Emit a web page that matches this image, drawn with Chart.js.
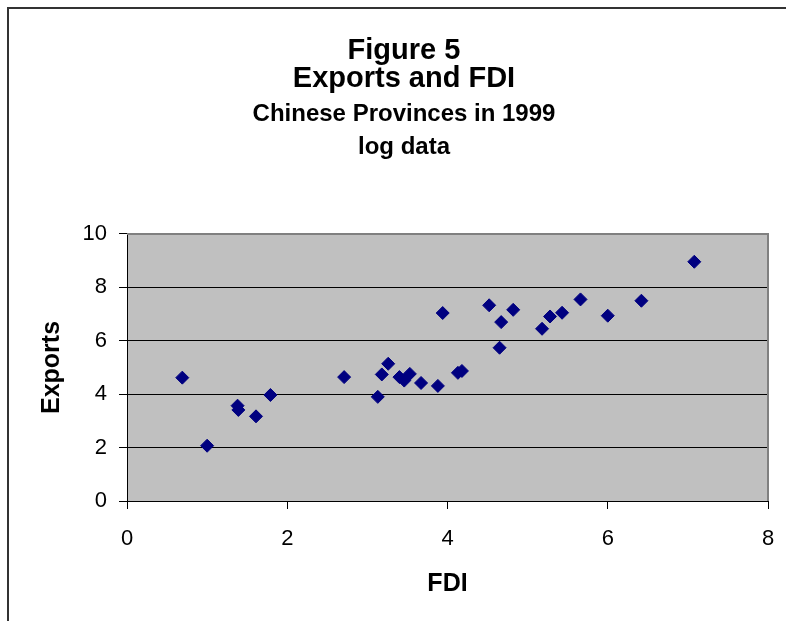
<!DOCTYPE html>
<html>
<head>
<meta charset="utf-8">
<script src="https://cdn.jsdelivr.net/npm/chart.js@4"></script>
<style>
  body { margin: 0; background: #fff; }
  canvas { display: block; }
</style>
</head>
<body>
<canvas id="fdiChart" width="786" height="621"></canvas>
<script>
// log FDI vs log exports, one point per province
const fdi = [0.69, 1.00, 1.38, 1.39, 1.61, 1.79, 2.71, 3.13, 3.18, 3.26, 3.40, 3.46, 3.53, 3.67, 3.88,
             3.94, 4.13, 4.18, 4.52, 4.67, 4.65, 4.82, 5.18, 5.28, 5.43, 5.66, 6.00, 6.42, 7.08];
const exportsLog = [4.62, 2.07, 3.57, 3.41, 3.17, 3.97, 4.64, 3.90, 4.74, 5.14, 4.64, 4.51, 4.76, 4.42, 4.31,
                    7.04, 4.80, 4.87, 7.33, 6.70, 5.74, 7.16, 6.45, 6.91, 7.05, 7.55, 6.94, 7.50, 8.96];
const titleLines = ["Figure 5", "Exports and FDI"];
const subtitleLines = ["Chinese Provinces in 1999", "log data"];
const xTicks = [0, 2, 4, 6, 8];
const yTicks = [0, 2, 4, 6, 8, 10];

const FONT = "'Liberation Sans', Arial, sans-serif";

const points = fdi.map((x, i) => ({ x: x, y: exportsLog[i] }));

// grey plot area, grey top/right border, outer frame
const plotBox = {
  id: "plotBox",
  beforeDraw(chart) {
    const { ctx, chartArea: a } = chart;
    ctx.save();
    ctx.fillStyle = "#C0C0C0";
    ctx.fillRect(a.left, a.top, a.right - a.left, a.bottom - a.top);
    // outer frame
    ctx.strokeStyle = "#333";
    ctx.lineWidth = 2;
    ctx.beginPath();
    ctx.moveTo(8, 621);
    ctx.lineTo(8, 8);
    ctx.lineTo(786, 8);
    ctx.stroke();
    ctx.restore();
  },
  beforeDatasetsDraw(chart) {
    const { ctx, chartArea: a } = chart;
    ctx.save();
    ctx.strokeStyle = "#808080";
    ctx.lineWidth = 2;
    ctx.beginPath();
    ctx.moveTo(a.left, a.top);
    ctx.lineTo(a.right, a.top);
    ctx.lineTo(a.right, a.bottom);
    ctx.stroke();
    ctx.restore();
  }
};

new Chart(document.getElementById("fdiChart"), {
  type: "scatter",
  data: {
    datasets: [{
      label: "Exports",
      data: points,
      pointStyle: "rectRot",
      pointRadius: 6.5,
      pointHoverRadius: 6.5,
      backgroundColor: "#000080",
      borderColor: "#000080",
      borderWidth: 1
    }]
  },
  options: {
    responsive: false,
    animation: false,
    events: [],
    // uneven side padding keeps the titles centred on the original (wider) frame
    layout: { padding: { left: 40, right: 18, top: 0, bottom: 0 } },
    plugins: {
      legend: { display: false },
      tooltip: { enabled: false },
      title: {
        display: true,
        text: titleLines,
        color: "#000",
        font: { family: FONT, size: 29, weight: "bold", lineHeight: 0.9655 },
        padding: { top: 37, bottom: 5.5 }
      },
      subtitle: {
        display: true,
        text: subtitleLines,
        color: "#000",
        font: { family: FONT, size: 24, weight: "bold", lineHeight: 1.354 },
        padding: { top: 0, bottom: 70.5 }
      }
    },
    scales: {
      x: {
        type: "linear",
        min: 0,
        max: 8,
        afterBuildTicks(s) { s.ticks = xTicks.map(v => ({ value: v })); },
        afterFit(s) {
          s.height = 120;
          // don't let the end labels push the plot inward
          s.paddingLeft = 0;
          s.paddingRight = 0;
        },
        grid: { drawOnChartArea: false, drawTicks: true, tickLength: 8, color: "#000", tickColor: "#000" },
        border: { display: true, color: "#000", width: 1 },
        ticks: { color: "#000", font: { family: FONT, size: 22 }, padding: 17, maxRotation: 0 },
        title: {
          display: true,
          text: "FDI",
          color: "#000",
          font: { family: FONT, size: 25, weight: "bold" },
          padding: { top: 0, bottom: 22 }
        }
      },
      y: {
        min: 0,
        max: 10,
        afterBuildTicks(s) { s.ticks = yTicks.map(v => ({ value: v })); },
        afterFit(s) { s.width = 87; },
        grid: { color: "#000", tickColor: "#000", tickLength: 8, lineWidth: 1 },
        border: { display: true, color: "#000", width: 1 },
        ticks: { color: "#000", font: { family: FONT, size: 22 }, padding: 12 },
        title: {
          display: true,
          text: "Exports",
          color: "#000",
          font: { family: FONT, size: 25, weight: "bold" },
          padding: { top: -3, bottom: 0 }
        }
      }
    }
  },
  plugins: [plotBox]
});
</script>
</body>
</html>
